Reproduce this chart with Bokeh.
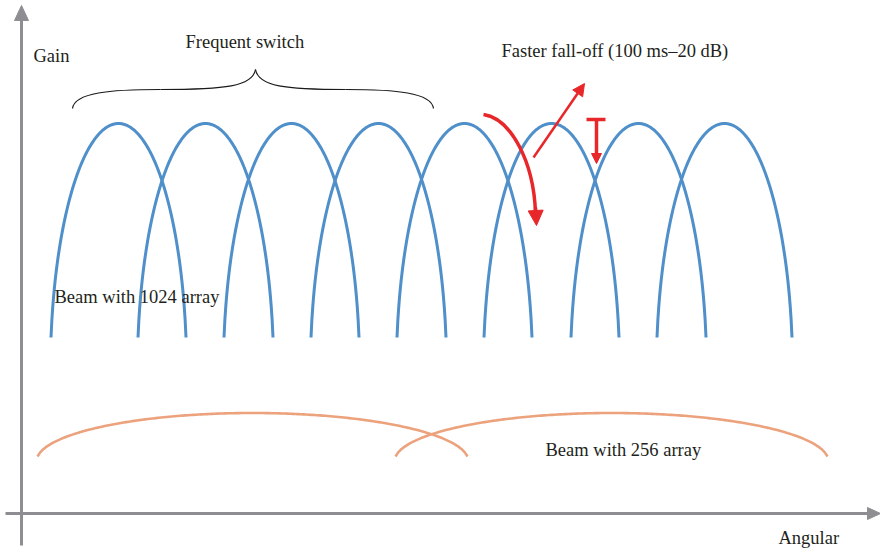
import numpy as np
from bokeh.plotting import figure
from bokeh.models import Range1d, Arrow, NormalHead
from bokeh.core.properties import value
from bokeh.embed import file_html
from bokeh.resources import INLINE

# ---- data (angle units along x, gain units along y) ----
beam1024_centers = [118, 205, 291, 378, 464, 551, 638, 724]
beam1024_halfwidth = 67.5
beam1024_peak = 429
beam1024_base = 215

beam256_centers = [252, 611]
beam256_halfwidths = [215, 216]
beam256_peak = 139.5
beam256_base = 96

labels = ["Gain", "Frequent switch", "Faster fall-off (100 ms\u201320 dB)",
          "Beam with 1024 array", "Beam with 256 array", "Angular"]
label_x = [33, 185, 501, 54, 545, 778]
label_y = [497, 511, 502, 256, 103, 15]

BLUE = "#4f8fca"
ORANGE = "#eca27c"
RED = "#e8272a"
GRAY = "#8e8e92"
TEXT = "#231f20"
FONT = "Liberation Serif"


def arch(c, hw, pk, base, s=0.99, n=161):
    u = np.linspace(-1, 1, n)
    r = np.sqrt(1 - s * s)
    f = (np.sqrt(1 - (s * u) ** 2) - r) / (1 - r)
    return list(c + hw * u), list(base + (pk - base) * f)


p = figure(width=880, height=552, x_range=Range1d(0, 880), y_range=Range1d(0, 552),
           output_backend="svg", toolbar_location=None, min_border=0,
           x_axis_type=None, y_axis_type=None, outline_line_color=None,
           background_fill_color="white", border_fill_color="white")
p.grid.visible = False

# axes (drawn as arrows)
p.line([21, 21], [7, 533], line_color=GRAY, line_width=3)
p.patch([14, 28, 21], [532, 532, 547], fill_color=GRAY, line_color=GRAY)
p.line([5, 869], [39, 39], line_color=GRAY, line_width=3)
p.patch([867, 867, 880], [33, 45, 39], fill_color=GRAY, line_color=GRAY)

# 256-element beams
xs, ys = [], []
for c, hw in zip(beam256_centers, beam256_halfwidths):
    x, y = arch(c, hw, beam256_peak, beam256_base, s=0.995)
    xs.append(x); ys.append(y)
p.multi_line(xs, ys, line_color=ORANGE, line_width=2.6)

# 1024-element beams
xs, ys = [], []
for c in beam1024_centers:
    x, y = arch(c, beam1024_halfwidth, beam1024_peak, beam1024_base, s=0.99)
    xs.append(x); ys.append(y)
p.multi_line(xs, ys, line_color=BLUE, line_width=3)

# brace
bx0 = [72, 160, 433, 345]
by0 = [444, 463, 444, 463]
bcx0 = [74, 225, 431, 285]
bcy0 = [460, 463, 460, 463]
bcx1 = [110, 252, 395, 258]
bcy1 = [463, 466, 463, 466]
bx1 = [160, 255, 345, 255]
by1 = [463, 483, 463, 483]
p.bezier(x0=bx0, y0=by0, x1=bx1, y1=by1, cx0=bcx0, cy0=bcy0, cx1=bcx1, cy1=bcy1,
         line_color="#1a1a1a", line_width=1.2)

# curved red arrow
p.bezier(x0=[483], y0=[438], cx0=[510], cy0=[434], cx1=[533], cy1=[392],
         x1=[535], y1=[340], line_color=RED, line_width=3.5)
p.add_layout(Arrow(end=NormalHead(size=15, fill_color=RED, line_color=RED),
                   x_start=535, y_start=345, x_end=536, y_end=327,
                   line_color=RED, line_width=3.5))
# straight red arrow
p.add_layout(Arrow(end=NormalHead(size=12, fill_color=RED, line_color=RED),
                   x_start=533, y_start=395, x_end=584, y_end=469,
                   line_color=RED, line_width=2.5))
# T-bar arrow
p.line([586, 605], [433, 433], line_color=RED, line_width=3.5)
p.add_layout(Arrow(end=NormalHead(size=10, fill_color=RED, line_color=RED),
                   x_start=596, y_start=433, x_end=596, y_end=389,
                   line_color=RED, line_width=3.5))

p.text(x=label_x, y=label_y, text=labels, text_font=value(FONT),
       text_font_size="18.5px", text_color=TEXT, text_baseline="alphabetic",
       text_align="left")

open("out.html", "w").write(file_html(p, INLINE))
